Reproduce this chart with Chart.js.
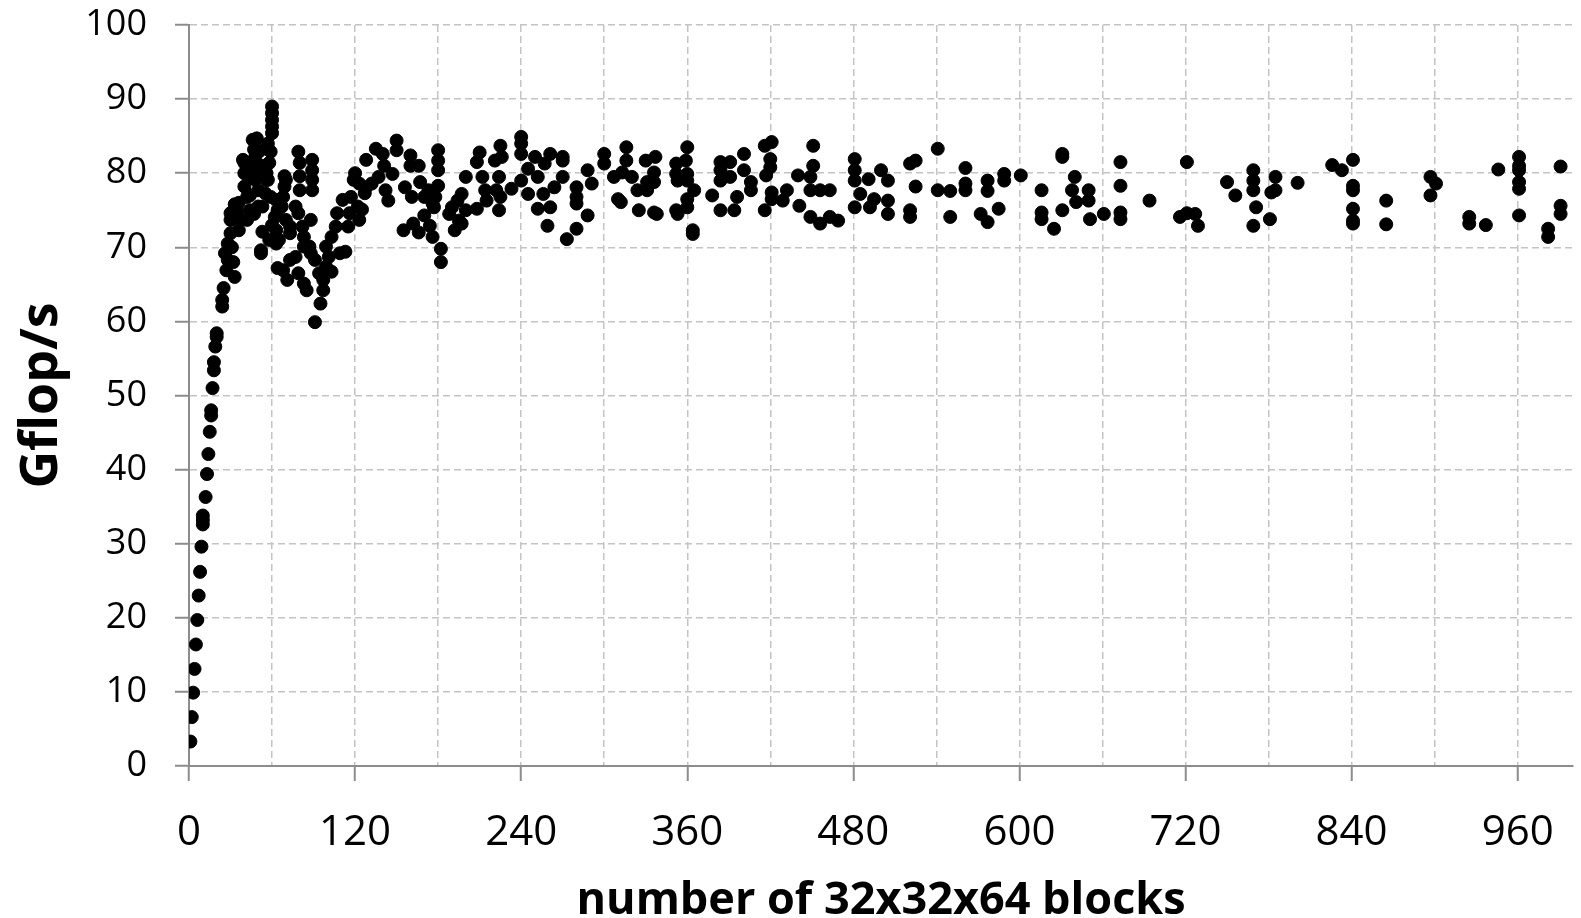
<!DOCTYPE html>
<html>
<head>
<meta charset="utf-8">
<script src="https://cdn.jsdelivr.net/npm/chart.js@4.4.0/dist/chart.umd.min.js"></script>
<style>
  html, body { margin: 0; padding: 0; background: #fff; }
</style>
</head>
<body>
<canvas id="flopChart" width="1581" height="918"></canvas>
<script>
// ramp and the first 120 blocks
var blocksA = [1, 2, 3, 4, 5, 6, 7, 8, 9, 10, 10, 10, 12, 13, 14, 15, 16, 16, 17, 18, 18, 19, 20, 20,
  24, 24, 25, 27, 28, 26, 28, 30, 30, 30, 35, 36, 37, 42, 42, 40, 40, 40, 39, 44, 46, 49, 47, 48, 49, 48, 50,
  55, 56, 56, 55, 53, 53, 52, 52, 60, 60, 60, 60, 60, 59, 58, 57, 59, 63, 64, 62, 63, 63, 65,
  69, 70, 69, 68, 67, 70, 73, 73, 68, 64, 71, 73, 77, 79, 79, 80, 80, 80, 77, 79, 82, 83, 83,
  89, 89, 89, 89, 88, 87, 88, 91, 83, 85, 91, 95, 97, 97, 94, 99, 103, 101, 99, 103, 106, 107, 111,
  109, 113, 115, 116, 117, 119, 120, 122, 123,
  31, 32, 33, 33, 36, 44, 45, 46, 51, 53, 57, 44, 47, 50, 58, 60];
var gflopsA = [3.3, 6.6, 9.9, 13.1, 16.4, 19.7, 23.0, 26.2, 29.6, 32.6, 33.2, 33.8, 36.3, 39.4, 42.1, 45.1, 47.3, 48.0, 51.0, 53.4, 54.5, 56.6, 57.9, 58.4,
  62.0, 62.9, 64.5, 66.9, 68.3, 69.2, 70.5, 71.9, 73.7, 74.6, 74.8, 72.3, 73.7, 73.7, 76.8, 78.2, 80.0, 81.4, 81.8, 81.4, 84.5, 84.7, 83.2, 82.3, 80.4, 79.1, 77.7,
  80.9, 80.0, 79.1, 77.3, 75.5, 72.1, 69.6, 69.2, 89.0, 88.1, 87.2, 86.3, 85.4, 82.9, 81.4, 79.1, 76.8, 76.4, 75.0, 74.1, 72.3, 70.5, 71.0,
  79.6, 79.1, 78.2, 76.8, 75.5, 73.7, 72.8, 71.9, 66.9, 67.2, 65.6, 68.3, 68.7, 66.5, 82.9, 81.4, 79.6, 77.7, 75.5, 74.6, 72.8, 71.4, 70.1,
  81.8, 80.4, 79.1, 77.7, 73.7, 70.1, 69.2, 68.3, 65.1, 64.2, 59.9, 62.4, 64.2, 65.6, 66.5, 67.4, 66.7, 68.7, 70.1, 71.4, 72.8, 74.6, 76.4,
  69.2, 69.4, 72.8, 74.6, 76.8, 79.1, 80.0, 75.5, 73.7,
  70.0, 68.0, 66.0, 75.8, 76.0, 77.0, 79.5, 80.5, 83.0, 81.0, 84.0, 75.0, 74.5, 75.5, 71.0, 73.0];

// 120 to 460 blocks
var blocksB = [128, 127, 125, 123, 128, 132, 135, 140, 141, 137, 142, 144, 147, 150, 150, 160, 160, 166, 156, 161,
  167, 170, 173, 176, 180, 180, 180, 180, 178, 177, 155, 162, 166, 170, 174, 176, 182, 182, 188, 190,
  192, 195, 194, 197, 200, 200, 197, 208, 210, 212, 208, 214, 215, 221, 225, 226, 224, 222, 225, 224,
  233, 240, 240, 240, 245, 240, 245, 250, 252, 257, 261, 256, 252, 261, 259, 264, 270, 270, 270, 273,
  280, 280, 280, 280, 288, 288, 291,
  300, 300, 307, 310, 312, 316, 316, 313, 320, 324, 325, 330, 337, 336, 331, 336, 331, 336, 338,
  352, 352, 353, 352, 353, 360, 359, 360, 360, 365, 360, 360, 364, 364, 378, 384, 384, 384, 384,
  391, 391, 394, 396, 401, 401, 406, 406, 416, 421, 420, 420, 417, 421, 421, 416, 429, 432, 440, 441,
  451, 451, 449, 449, 456, 463, 449, 456, 463];
var gflopsB = [81.8, 77.3, 75.1, 78.6, 78.1, 78.6, 83.3, 82.6, 81.0, 79.5, 77.7, 76.3, 79.9, 84.4, 83.1, 82.4, 81.0, 81.0, 78.1, 76.8,
  78.8, 76.8, 77.7, 75.9, 83.1, 81.7, 80.4, 78.3, 76.8, 75.4, 72.3, 73.2, 72.0, 74.3, 72.9, 71.4, 69.8, 68.0, 74.5, 75.4,
  72.3, 73.6, 76.3, 77.2, 79.5, 75.0, 73.2, 81.5, 82.8, 79.5, 75.2, 77.7, 76.3, 81.7, 83.7, 82.2, 79.5, 77.7, 76.8, 75.0,
  77.9, 84.9, 84.0, 82.6, 80.6, 79.0, 77.2, 82.2, 79.5, 81.3, 82.6, 77.2, 75.2, 75.4, 72.9, 78.1, 82.2, 81.7, 79.5, 71.1,
  72.5, 78.1, 76.8, 75.9, 80.4, 74.3, 78.6,
  82.6, 81.3, 79.5, 76.5, 76.1, 83.5, 81.7, 80.1, 79.5, 77.7, 75.0, 81.7, 82.2, 80.1, 78.8, 78.8, 77.7, 74.7, 74.5,
  81.3, 79.9, 79.0, 75.0, 74.5, 83.5, 81.7, 79.9, 79.0, 77.7, 76.5, 75.4, 72.3, 71.8, 77.0, 81.5, 80.4, 79.0, 75.0,
  81.5, 79.5, 75.0, 76.8, 82.6, 80.4, 78.8, 77.7, 83.7, 84.2, 81.9, 80.8, 79.7, 77.4, 76.5, 75.0, 76.3, 77.7, 79.7, 75.6,
  83.7, 81.0, 79.5, 77.7, 77.7, 77.7, 74.1, 73.2, 74.1];

// 460 blocks and up
var blocksC = [469, 481, 481, 481, 485, 481, 491, 492, 495, 500, 505, 505, 505, 521, 525, 525, 521, 521,
  541, 541, 550, 550, 561, 561, 561, 577, 577, 572, 577, 585, 589, 589, 601, 616, 616, 616, 625,
  631, 631, 631, 640, 638, 641, 650, 650, 651, 661,
  673, 673, 673, 673, 694, 721, 716, 721, 727, 729, 750, 756, 769, 769, 769, 771, 769, 782, 785, 785, 781,
  801, 826, 833, 841, 841, 841, 841, 841, 841,
  865, 865, 897, 901, 897, 925, 925, 937, 946, 961, 961, 961, 961, 961, 961, 982, 982, 991, 991, 991];
var gflopsC = [73.6, 81.9, 80.4, 79.0, 77.2, 75.4, 79.2, 75.4, 76.5, 80.4, 79.0, 76.3, 74.5, 81.3, 81.7, 78.2, 75.0, 74.1,
  83.3, 77.7, 77.6, 74.1, 80.7, 78.6, 77.7, 79.0, 77.6, 74.5, 73.4, 75.2, 79.9, 79.0, 79.7, 77.7, 74.7, 73.8, 72.5,
  82.6, 82.2, 75.0, 79.5, 77.7, 76.1, 77.7, 76.3, 73.8, 74.5,
  81.5, 78.3, 74.7, 73.8, 76.3, 81.5, 74.1, 74.6, 74.5, 72.9, 78.8, 77.0, 80.4, 79.0, 77.7, 75.4, 72.9, 77.4, 79.5, 77.7, 73.8,
  78.7, 81.1, 80.4, 81.8, 78.3, 77.7, 75.2, 73.6, 73.2,
  76.3, 73.1, 79.5, 78.6, 77.0, 74.1, 73.2, 73.0, 80.5, 82.2, 81.0, 80.4, 78.8, 77.9, 74.3, 72.5, 71.4, 80.9, 75.6, 74.5];

var xTitle = "number of 32x32x64 blocks";
var yTitle = "Gflop/s";

var allBlocks = blocksA.concat(blocksB, blocksC);
var allGflops = gflopsA.concat(gflopsB, gflopsC);
var points = allBlocks.map(function(b, i) { return { x: b, y: allGflops[i] }; });

var axisGrey = "#8c8c8c";
var gridGrey = "#c4c4c4";
var fontName = "'Open Sans', sans-serif";

var ctx = document.getElementById("flopChart").getContext("2d");
var flopChart = new Chart(ctx, {
  type: "scatter",
  data: {
    datasets: [{
      label: yTitle,
      data: points,
      backgroundColor: "#000",
      borderColor: "#000",
      pointBorderWidth: 1,
      pointRadius: 6.5
    }]
  },
  options: {
    responsive: false,
    animation: false,
    layout: { padding: { top: 25, right: 0, bottom: 0, left: 0 } },
    plugins: { legend: { display: false }, tooltip: { enabled: false } },
    scales: {
      x: {
        type: "linear",
        min: 0,
        max: 1000,
        afterFit: function(scale) { scale.height = 152; },
        ticks: {
          stepSize: 60,
          includeBounds: false,
          autoSkip: false,
          maxRotation: 0,
          padding: 27,
          color: "#000",
          font: { family: fontName, size: 42 },
          callback: function(v) { return v % 120 === 0 ? v : ""; }
        },
        grid: {
          color: gridGrey,
          lineWidth: 1.5,
          tickLength: 15,
          tickWidth: 2,
          tickColor: function(c) { return c.tick && c.tick.value % 120 === 0 ? axisGrey : "rgba(0,0,0,0)"; }
        },
        border: { color: axisGrey, width: 2, dash: [7, 4] },
        title: {
          display: true,
          text: xTitle,
          color: "#000",
          padding: 0,
          font: { family: fontName, size: 45, weight: "bold", lineHeight: 0.75 }
        }
      },
      y: {
        min: 0,
        max: 100,
        afterFit: function(scale) {
          scale.width = 189;
          // keep the label overhang from pushing the plot down
          scale.paddingTop = 0;
          scale.paddingBottom = 0;
        },
        ticks: {
          stepSize: 10,
          padding: 28,
          color: "#000",
          font: { family: fontName, size: 36 }
        },
        grid: {
          color: gridGrey,
          lineWidth: 1.5,
          tickLength: 14,
          tickWidth: 2,
          tickColor: axisGrey
        },
        border: { color: axisGrey, width: 2, dash: [7, 4] },
        title: {
          display: true,
          text: yTitle,
          color: "#000",
          padding: { top: 11, bottom: 0 },
          font: { family: fontName, size: 52, weight: "bold" }
        }
      }
    }
  }
});
</script>
</body>
</html>
